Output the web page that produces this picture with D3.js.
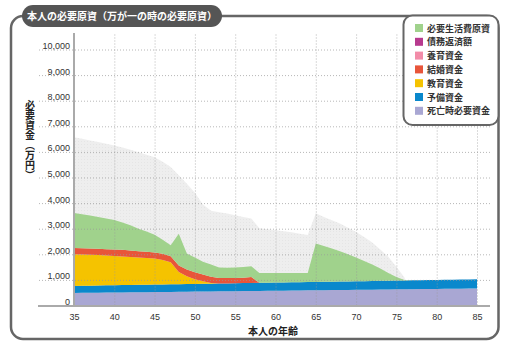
<!DOCTYPE html>
<html><head><meta charset="utf-8">
<script src="https://cdn.jsdelivr.net/npm/d3@7"></script>
<style>
html,body{margin:0;padding:0;background:#fff;}
svg{display:block;}
</style></head>
<body>
<svg id="c" width="510" height="351"></svg>
<script>
// ---- data ----
const ages = [35,36,37,38,39,40,41,42,43,44,45,46,47,48,49,50,51,52,53,54,55,56,57,58,59,60,61,62,63,64,65,66,67,68,69,70,71,72,73,74,75,76,77,78,79,80,81,82,83,84,85];
const xTicks = [35,40,45,50,55,60,65,70,75,80,85];
const yTicks = [0,1000,2000,3000,4000,5000,6000,7000,8000,9000,10000];

const seriesNames = ["死亡時必要資金","予備資金","教育資金","結婚資金","養育資金","債務返済額","必要生活費原資"];
const seriesColors = ["#a9a7d3","#0a88cc","#f5c300","#e8553a","#f28ca8","#b73a8e","#a0d28c"];

const deathFunds = [490,495,497,500,505,508,511,515,518,522,525,529,532,536,539,543,546,550,553,557,560,564,567,571,574,578,581,585,588,592,595,599,602,606,609,613,616,620,623,627,630,634,637,641,644,648,651,655,658,662,665];
const reserveFunds = [275,277,278,280,282,284,285,287,289,290,292,294,295,297,299,301,302,304,306,307,309,311,312,314,316,318,319,321,323,324,326,328,329,331,333,335,336,338,340,341,343,345,346,348,350,352,353,355,357,358,360];
const educationFunds = [1240,1220,1205,1190,1165,1140,1115,1090,1065,1045,1015,955,865,480,305,180,100,25,0,0,0,0,0,0,0,0,0,0,0,0,0,0,0,0,0,0,0,0,0,0,0,0,0,0,0,0,0,0,0,0,0];
const marriageFunds = [245,245,245,245,250,260,265,260,250,240,235,240,230,250,260,275,260,240,220,210,205,210,230,0,0,0,0,0,0,0,0,0,0,0,0,0,0,0,0,0,0,0,0,0,0,0,0,0,0,0,0];
const childcareFunds = [0,0,0,0,0,0,0,0,0,0,0,0,0,0,0,0,0,0,0,0,0,0,0,0,0,0,0,0,0,0,0,0,0,0,0,0,0,0,0,0,0,0,0,0,0,0,0,0,0,0,0];
const debtRepay = [0,0,0,0,0,0,0,0,0,0,0,0,0,0,0,0,0,0,0,0,0,0,0,0,0,0,0,0,0,0,0,0,0,0,0,0,0,0,0,0,0,0,0,0,0,0,0,0,0,0,0];
const livingFunds = [1365,1330,1290,1245,1200,1145,1065,985,875,795,700,555,435,1240,625,580,500,480,405,405,410,415,420,380,375,370,365,360,355,350,1500,1400,1295,1180,1060,925,790,640,480,305,145,20,0,0,0,0,0,0,0,0,0];
// grey background area (total, not in legend)
const grayTotal = [6570,6510,6450,6390,6320,6250,6170,6080,5990,5890,5790,5620,5410,5090,4760,4400,3950,3700,3640,3590,3530,3460,3400,3020,2980,2940,2900,2860,2800,2750,3600,3460,3330,3200,3040,2870,2680,2460,2190,1900,1510,1090,0,0,0,0,0,0,0,0,0];

const seriesValues = [deathFunds,reserveFunds,educationFunds,marriageFunds,childcareFunds,debtRepay,livingFunds];

// ---- chart ----
const svg = d3.select("#c");
const font = "'Liberation Sans', Arial, sans-serif";
const cjk = "'Noto Sans CJK JP', sans-serif";

const x = d3.scaleLinear().domain([35,85]).range([74,477]);
const y = d3.scaleLinear().domain([0,10000]).range([305.5,49.5]);

// pattern for grey area
const defs = svg.append("defs");
const pat = defs.append("pattern").attr("id","gp").attr("width",3).attr("height",3)
  .attr("patternUnits","userSpaceOnUse");
pat.append("rect").attr("width",3).attr("height",3).attr("fill","#eeeeee");
pat.append("rect").attr("x",0).attr("y",0).attr("width",1).attr("height",1).attr("fill","#e5e5e5");

// frame
svg.append("rect").attr("x",11).attr("y",16).attr("width",487.5).attr("height",323)
  .attr("rx",12).attr("fill","#fff").attr("stroke","#666").attr("stroke-width",2.5);

const table = ages.map((a,i)=>{
  const o = {age:a};
  seriesNames.forEach((n,k)=>o[n]=seriesValues[k][i]);
  o.gray = grayTotal[i];
  return o;
});

// grey area
svg.append("path").datum(table)
  .attr("fill","url(#gp)")
  .attr("d", d3.area().x(d=>x(d.age)).y0(y(0)).y1(d=>y(d.gray)));

const stack = d3.stack().keys(seriesNames)(table);
const area = d3.area().x(d=>x(d.data.age)).y0(d=>y(d[0])).y1(d=>y(d[1]));
svg.append("g").selectAll("path").data(stack).join("path")
  .attr("fill",(d,i)=>seriesColors[i])
  .attr("d",area);

// grid (on top)
const gx = svg.append("g").attr("transform",`translate(0,${y(0)})`)
  .call(d3.axisBottom(x).tickValues(xTicks).tickSize(-(y(0)-33)).tickFormat(""));
gx.select(".domain").remove();
gx.selectAll("line").attr("stroke","#999").attr("stroke-opacity",0.7).attr("stroke-dasharray","1,2");

const gy = svg.append("g").attr("transform",`translate(490,0)`)
  .call(d3.axisLeft(y).tickValues(yTicks.slice(1)).tickSize(490-38).tickFormat(""));
gy.select(".domain").remove();
gy.selectAll("line").attr("stroke","#999").attr("stroke-opacity",0.7).attr("stroke-dasharray","1,2");

// axis lines
svg.append("line").attr("x1",74).attr("x2",74).attr("y1",33).attr("y2",y(0)+1)
  .attr("stroke","#aaa").attr("stroke-width",2);
svg.append("line").attr("x1",38).attr("x2",490).attr("y1",y(0)+0.5).attr("y2",y(0)+0.5)
  .attr("stroke","#aaa").attr("stroke-width",2);

// tick labels
const ax = svg.append("g").attr("transform",`translate(0,${y(0)})`)
  .call(d3.axisBottom(x).tickValues(xTicks).tickSize(0).tickPadding(8));
ax.select(".domain").remove();
ax.selectAll("text").attr("font-family",font).attr("font-size",9).attr("fill","#333");

const ay = svg.append("g").attr("transform",`translate(74,0)`)
  .call(d3.axisLeft(y).tickValues(yTicks).tickSize(0).tickPadding(4).tickFormat(d3.format(",")));
ay.select(".domain").remove();
ay.selectAll("text").attr("font-family",font).attr("font-size",9).attr("fill","#333").attr("dy","-1");

// axis titles
svg.append("text").attr("x",273).attr("y",335).attr("text-anchor","middle")
  .attr("font-family",cjk).attr("font-weight","bold").attr("font-size",10).attr("fill","#222")
  .text("本人の年齢");
svg.append("text").attr("x",30).attr("y",140).attr("text-anchor","middle")
  .style("writing-mode","vertical-rl")
  .attr("font-family",cjk).attr("font-weight","bold").attr("font-size",10).attr("fill","#222")
  .text("必要資金（万円）");

// title badge
svg.append("rect").attr("x",22).attr("y",5).attr("width",200).attr("height",22).attr("rx",11)
  .attr("fill","#555");
svg.append("text").attr("x",122).attr("y",19.5).attr("text-anchor","middle")
  .attr("font-family",cjk).attr("font-weight","bold").attr("font-size",10).attr("fill","#fff")
  .text("本人の必要原資（万が一の時の必要原資）");

// legend
svg.append("rect").attr("x",403.5).attr("y",15.5).attr("width",95).attr("height",109.5).attr("rx",9)
  .attr("fill","#fff").attr("stroke","#666").attr("stroke-width",2);
const legendOrder = seriesNames.map((n,i)=>({n,c:seriesColors[i]})).reverse();
const lg = svg.append("g").selectAll("g").data(legendOrder).join("g")
  .attr("transform",(d,i)=>`translate(415,${28+i*13.8})`);
lg.append("rect").attr("x",0).attr("y",-4).attr("width",8).attr("height",8).attr("fill",d=>d.c);
lg.append("text").attr("x",12).attr("y",3.5)
  .attr("font-family",cjk).attr("font-weight","bold").attr("font-size",9).attr("fill","#333")
  .text(d=>d.n);
</script>
</body></html>
